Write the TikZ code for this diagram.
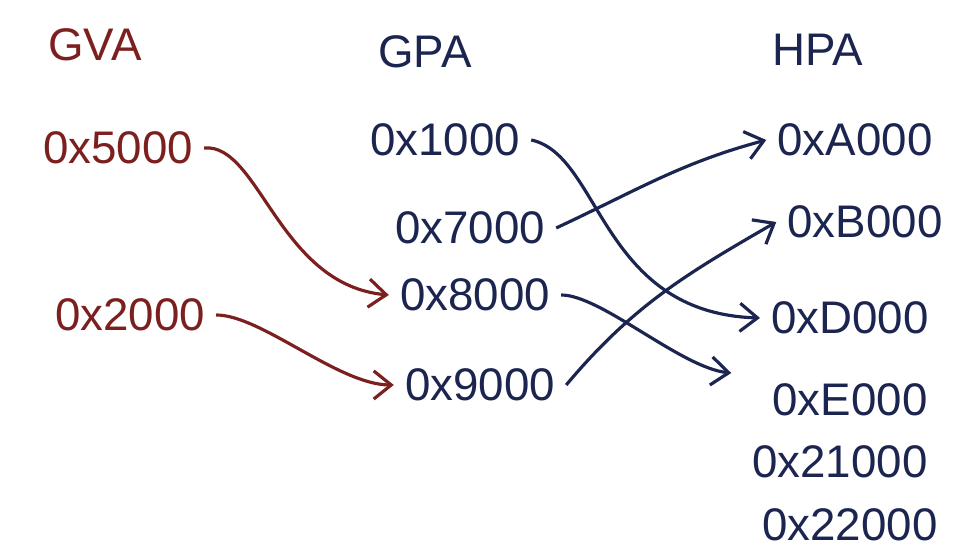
\documentclass[tikz,border=0pt]{standalone}
\usepackage{fontspec}
\setmainfont{Liberation Sans}
\usetikzlibrary{arrows.meta}
\definecolor{gvared}{HTML}{7B1F1F}
\definecolor{inkblue}{HTML}{1B2550}
\tikzset{
  gvalabel/.style={text=gvared, font=\fontsize{13}{15}\selectfont, inner sep=3pt},
  addrlabel/.style={text=inkblue, font=\fontsize{13}{15}\selectfont, inner sep=3pt},
  gvaedge/.style={draw=gvared, line width=0.9pt, -{Straight Barb[length=5pt,width=8pt]}},
  addredge/.style={draw=inkblue, line width=0.9pt, -{Straight Barb[length=5pt,width=8pt]}}
}
\begin{document}
\begin{tikzpicture}
	\useasboundingbox (0,0) rectangle (9.8,-5.58);
	%Nodes:
	\node[gvalabel] (gva) at (0.95,-0.45) {GVA};
	\node[addrlabel] (gpa) at (4.25,-0.52) {GPA};
	\node[addrlabel] (hpa) at (8.18,-0.50) {HPA};
	\node[gvalabel] (g5) at (1.18,-1.48) {0x5000};
	\node[gvalabel] (g2) at (1.30,-3.15) {0x2000};
	\node[addrlabel] (p1) at (4.45,-1.40) {0x1000};
	\node[addrlabel] (p7) at (4.70,-2.28) {0x7000};
	\node[addrlabel] (p8) at (4.75,-2.95) {0x8000};
	\node[addrlabel] (p9) at (4.80,-3.85) {0x9000};
	\node[addrlabel] (ha) at (8.55,-1.40) {0xA000};
	\node[addrlabel] (hb) at (8.65,-2.22) {0xB000};
	\node[addrlabel] (hd) at (8.50,-3.18) {0xD000};
	\node[addrlabel] (he) at (8.50,-4.00) {0xE000};
	\node[addrlabel] (h21) at (8.40,-4.62) {0x21000};
	\node[addrlabel] (h22) at (8.50,-5.25) {0x22000};
	%Edges:
	\draw[gvaedge] (g5.east) .. controls +(0.55,0.05) and +(-1.1,0.1) .. (p8.west);
	\draw[gvaedge] (g2.east) .. controls +(0.45,0) and +(-0.55,0) .. (p9.west);
	\draw[addredge] (p1.east) .. controls +(0.7,-0.15) and +(-1.6,0.05) .. (hd.west);
	\draw[addredge] (p7.east) to[out=25, in=195] (ha.west);
	\draw[addredge] (p8.east) .. controls +(0.4,0) and +(-0.5,0.05) .. ([shift={(-0.3,0.27)}]he.west);
	\draw[addredge] (p9.east) to[out=50, in=210] (hb.west);
\end{tikzpicture}
\end{document}
